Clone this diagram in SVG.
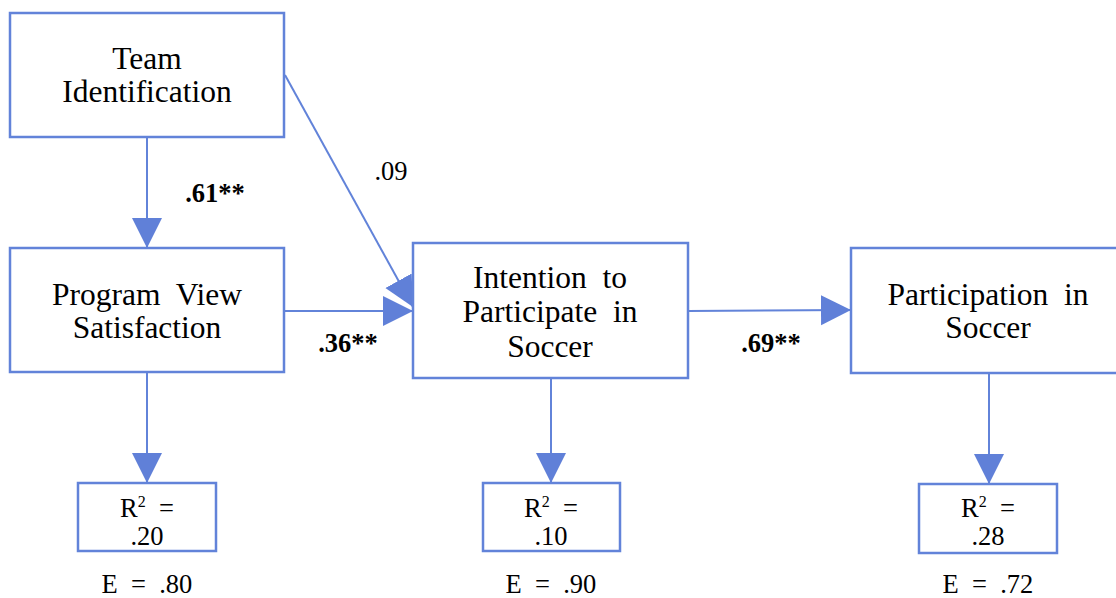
<svg xmlns="http://www.w3.org/2000/svg" width="1116" height="598" viewBox="0 0 1116 598">
<style>
.box{fill:#fff;stroke:#6283d9;stroke-width:2.5}
.conn{stroke:#6283d9;stroke-width:2;fill:none}
.t{font-family:"Liberation Serif","Times New Roman","DejaVu Serif",serif;font-size:31.5px;fill:#000;text-anchor:middle}
.s{font-family:"Liberation Serif","Times New Roman","DejaVu Serif",serif;font-size:26.5px;fill:#000;text-anchor:middle}
.b{font-weight:bold}
</style>
<defs>
<marker id="ah" markerUnits="userSpaceOnUse" markerWidth="31" markerHeight="31" refX="30" refY="15" orient="auto" viewBox="0 0 31 30">
<path d="M0,0 L30,15 L0,30 Z" fill="#6080d8"/>
</marker>
</defs>
<g id="connectors">
<line class="conn" x1="147" y1="137" x2="147" y2="248" marker-end="url(#ah)"/>
<line class="conn" x1="285" y1="75" x2="413" y2="307" marker-end="url(#ah)"/>
<line class="conn" x1="284" y1="311" x2="413" y2="311" marker-end="url(#ah)"/>
<line class="conn" x1="688" y1="311" x2="851" y2="310" marker-end="url(#ah)"/>
<line class="conn" x1="147" y1="372" x2="147" y2="483" marker-end="url(#ah)"/>
<line class="conn" x1="551" y1="378" x2="551" y2="483" marker-end="url(#ah)"/>
<line class="conn" x1="989" y1="373" x2="989" y2="484" marker-end="url(#ah)"/>
</g>
<g id="labels">
<text class="s b" x="215" y="202">.61**</text>
<text class="s" x="391" y="180">.09</text>
<text class="s b" x="348" y="352">.36**</text>
<text class="s b" x="771" y="352">.69**</text>
</g>
<g id="team">
<rect class="box" x="10" y="13" width="274" height="124"/>
<text class="t" x="147" y="69">Team</text>
<text class="t" x="147" y="102">Identification</text>
</g>
<g id="program">
<rect class="box" x="10" y="248" width="274" height="124"/>
<text class="t" x="147" y="305" xml:space="preserve">Program  View</text>
<text class="t" x="147" y="338">Satisfaction</text>
</g>
<g id="intention">
<rect class="box" x="413" y="243" width="275" height="135"/>
<text class="t" x="550" y="288" xml:space="preserve">Intention  to</text>
<text class="t" x="550" y="322" xml:space="preserve">Participate  in</text>
<text class="t" x="550" y="357">Soccer</text>
</g>
<g id="participation">
<rect class="box" x="851" y="248" width="275" height="125"/>
<text class="t" x="988" y="305" xml:space="preserve">Participation  in</text>
<text class="t" x="988" y="338">Soccer</text>
</g>
<g id="r2-program">
<rect class="box" x="78" y="483" width="138" height="68" stroke-width="2"/>
<text class="s" x="147" y="517" xml:space="preserve">R<tspan font-size="16" dy="-10">2</tspan><tspan dy="10">  =</tspan></text>
<text class="s" x="147" y="545">.20</text>
<text class="s" x="147" y="593" xml:space="preserve">E  =  .80</text>
</g>
<g id="r2-intention">
<rect class="box" x="483" y="483" width="137" height="68" stroke-width="2"/>
<text class="s" x="551" y="517" xml:space="preserve">R<tspan font-size="16" dy="-10">2</tspan><tspan dy="10">  =</tspan></text>
<text class="s" x="551" y="545">.10</text>
<text class="s" x="551" y="593" xml:space="preserve">E  =  .90</text>
</g>
<g id="r2-participation">
<rect class="box" x="919" y="484" width="138" height="69" stroke-width="2"/>
<text class="s" x="988" y="517" xml:space="preserve">R<tspan font-size="16" dy="-10">2</tspan><tspan dy="10">  =</tspan></text>
<text class="s" x="988" y="545">.28</text>
<text class="s" x="988" y="593" xml:space="preserve">E  =  .72</text>
</g>
</svg>
